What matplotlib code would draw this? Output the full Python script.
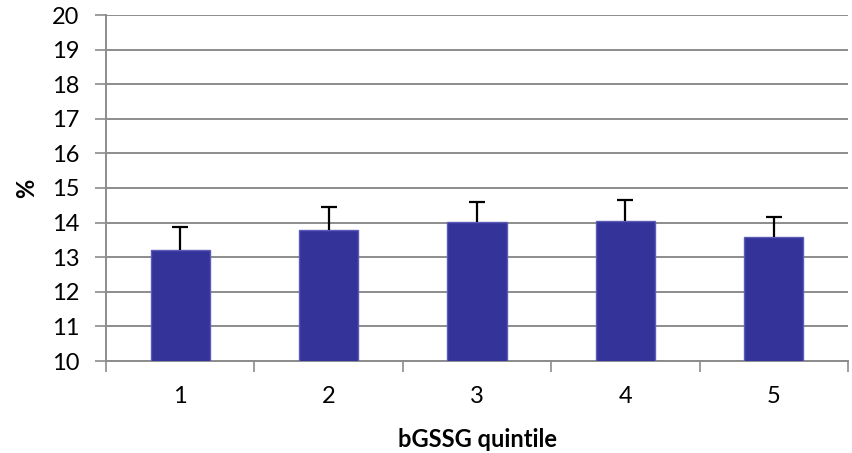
import matplotlib
matplotlib.use("Agg")
import matplotlib.pyplot as plt
import numpy as np

# mean % per bGSSG quintile, with upper error
quintiles = ["1", "2", "3", "4", "5"]
means = [13.22, 13.80, 14.02, 14.05, 13.58]
errors = [0.66, 0.65, 0.58, 0.59, 0.58]

plt.rcParams["font.family"] = ["Lato", "DejaVu Sans"]

fig = plt.figure(figsize=(8.52, 4.53), dpi=100)
ax = fig.add_axes([106 / 852, (453 - 361) / 453, (848 - 106) / 852, (361 - 15) / 453])

x = np.arange(len(quintiles))
ax.bar(x, means, width=0.4, color="#333399", edgecolor="#5c5cb8", linewidth=1.0, zorder=3)
_, caps, _ = ax.errorbar(x, means, yerr=[np.zeros(len(errors)), errors], fmt="none",
                         ecolor="black", elinewidth=1.6, capsize=6, capthick=1.6, zorder=4)
# only the upper whisker gets a cap
caps[0].set_visible(False)

ax.set_ylim(10, 20)
ax.set_yticks(np.arange(10, 21, 1))
ax.set_xlim(-0.5, len(quintiles) - 0.5)
ax.grid(axis="y", color="#8c8c8c", linewidth=1.4, zorder=0)

# category boundaries as ticks, labels at the centres
ax.set_xticks(np.arange(-0.5, len(quintiles), 1.0))
ax.set_xticklabels([])
ax.set_xticks(x, minor=True)
ax.set_xticklabels(quintiles, minor=True)
ax.tick_params(axis="x", which="major", length=8, width=1.2, color="#8c8c8c", direction="out")
ax.tick_params(axis="x", which="minor", length=0, pad=18, labelsize=17)
ax.tick_params(axis="y", length=8, width=1.2, color="#8c8c8c", labelsize=17, pad=11)

for side in ["top", "right"]:
    ax.spines[side].set_visible(False)
for side in ["left", "bottom"]:
    ax.spines[side].set_color("#8c8c8c")
    ax.spines[side].set_linewidth(1.4)

ax.set_xlabel("bGSSG quintile", fontsize=17, fontweight="bold", labelpad=15)
ax.set_ylabel("%", fontsize=17, fontweight="bold", labelpad=10)

fig.savefig("out.png", dpi=100)
